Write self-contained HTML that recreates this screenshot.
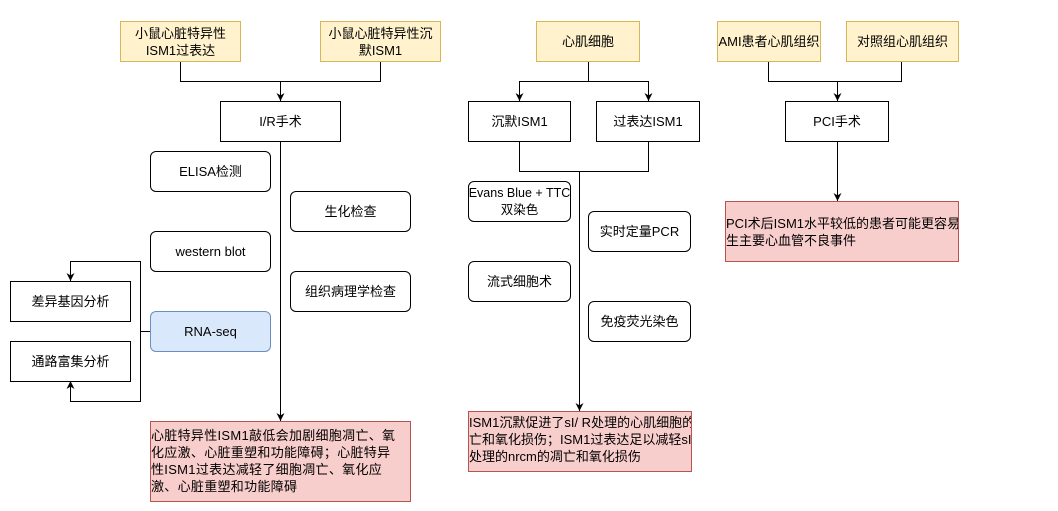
<!DOCTYPE html>
<html><head><meta charset="utf-8"><style>
body{margin:0;width:1058px;height:511px;background:#fff;position:relative;overflow:hidden;font-family:"Liberation Sans","Noto Sans CJK SC",sans-serif;font-size:13px;color:#000}
.b{position:absolute;box-sizing:border-box;border:1px solid #000;background:#fff;display:flex;align-items:center;justify-content:center;text-align:center;line-height:17px;white-space:nowrap}
.y{background:#fff2cc;border-color:#d6b656}
.r{border-radius:6px}
.bl{background:#dae8fc;border-color:#6c8ebf}
.p{background:#f8cecc;border-color:#b85450;text-align:left;justify-content:flex-start;align-items:flex-start;padding-top:6px;line-height:17px;overflow:hidden}
svg{position:absolute;left:0;top:0}
</style></head><body>
<svg width="1058" height="511">
<defs>
<marker id="ad" viewBox="0 0 10 10" refX="10" refY="5" markerWidth="8" markerHeight="8" orient="auto-start-reverse" markerUnits="userSpaceOnUse"><path d="M0,0 L10,5 L0,10 L3,5 Z" fill="#000"/></marker></defs>
<g stroke="#000" fill="none" stroke-width="1">
<path d="M180.5,61 V81.5 H380.5 V61"/><path d="M280.5,81 V101" marker-end="url(#ad)"/>
<path d="M280.5,141 V421" marker-end="url(#ad)"/>
<path d="M150,331.5 H140.5 V261.5 H70.5 V281" marker-end="url(#ad)"/>
<path d="M140.5,331 V401.5 H70.5 V381" marker-end="url(#ad)"/>
<path d="M588.5,61 V81.5 H519.5 V101" marker-end="url(#ad)"/><path d="M588.5,81.5 H648.5 V101" marker-end="url(#ad)"/>
<path d="M519.5,141 V171.5 H648.5 V141"/><path d="M579.5,171 V411" marker-end="url(#ad)"/>
<path d="M768.5,61 V81.5 H901.5 V61"/><path d="M837.5,81 V101" marker-end="url(#ad)"/>
<path d="M837.5,141 V201" marker-end="url(#ad)"/>
</g></svg>
<div class="b y" style="left:120px;top:21px;width:121px;height:41px">小鼠心脏特异性<br>ISM1过表达</div>
<div class="b y" style="left:320px;top:21px;width:121px;height:41px">小鼠心脏特异性沉<br>默ISM1</div>
<div class="b" style="left:220px;top:101px;width:121px;height:41px">I/R手术</div>
<div class="b r" style="left:150px;top:151px;width:121px;height:41px">ELISA检测</div>
<div class="b r" style="left:290px;top:191px;width:121px;height:41px">生化检查</div>
<div class="b r" style="left:150px;top:231px;width:121px;height:41px">western blot</div>
<div class="b r" style="left:290px;top:271px;width:121px;height:41px">组织病理学检查</div>
<div class="b r bl" style="left:150px;top:311px;width:121px;height:41px">RNA-seq</div>
<div class="b" style="left:10px;top:281px;width:121px;height:41px">差异基因分析</div>
<div class="b" style="left:10px;top:341px;width:121px;height:41px">通路富集分析</div>
<div class="b p" style="left:150px;top:421px;width:261px;height:81px;padding-top:5px;letter-spacing:0.3px">心脏特异性ISM1敲低会加剧细胞凋亡、氧<br>化应激、心脏重塑和功能障碍；心脏特异<br>性ISM1过表达减轻了细胞凋亡、氧化应<br>激、心脏重塑和功能障碍</div>
<div class="b y" style="left:536px;top:21px;width:104px;height:41px">心肌细胞</div>
<div class="b" style="left:468px;top:101px;width:103px;height:41px">沉默ISM1</div>
<div class="b" style="left:596px;top:101px;width:104px;height:41px">过表达ISM1</div>
<div class="b r" style="left:468px;top:181px;width:103px;height:41px;font-size:12.5px">Evans Blue + TTC<br>双染色</div>
<div class="b r" style="left:588px;top:211px;width:103px;height:41px">实时定量PCR</div>
<div class="b r" style="left:468px;top:261px;width:103px;height:41px">流式细胞术</div>
<div class="b r" style="left:588px;top:301px;width:103px;height:41px">免疫荧光染色</div>
<div class="b p" style="left:468px;top:411px;width:224px;height:61px;padding-top:2px">ISM1沉默促进了sI/ R处理的心肌细胞的凋<br>亡和氧化损伤；ISM1过表达足以减轻sI/ R<br>处理的nrcm的凋亡和氧化损伤</div>
<div class="b y" style="left:717px;top:21px;width:104px;height:41px">AMI患者心肌组织</div>
<div class="b y" style="left:846px;top:21px;width:113px;height:41px">对照组心肌组织</div>
<div class="b" style="left:785px;top:101px;width:104px;height:41px">PCI手术</div>
<div class="b p" style="left:725px;top:201px;width:234px;height:61px;padding-top:13px">PCI术后ISM1水平较低的患者可能更容易发<br>生主要心血管不良事件</div>
</body></html>
